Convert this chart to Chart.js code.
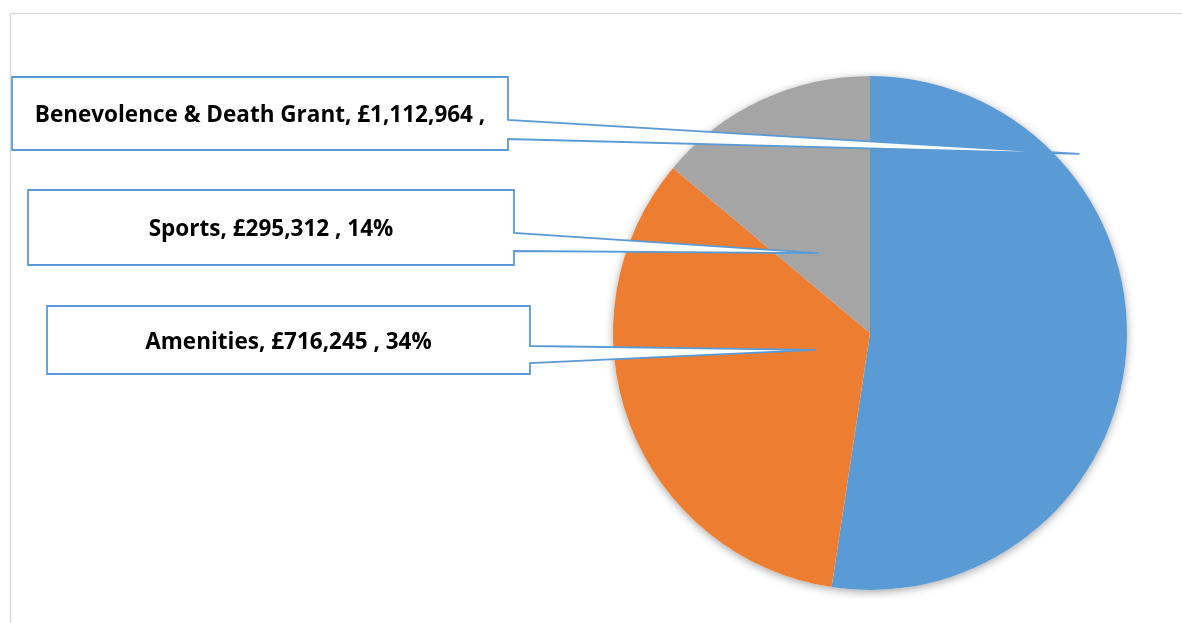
<!DOCTYPE html>
<html>
<head>
<meta charset="utf-8">
<script src="https://cdn.jsdelivr.net/npm/chart.js@4/dist/chart.umd.min.js"></script>
<style>
  html, body { margin: 0; padding: 0; background: #fff; }
  #wrap { width: 1182px; height: 623px; position: relative; }
</style>
</head>
<body>
<div id="wrap"><canvas id="pie"></canvas></div>
<script>
// data
const categories = ['Benevolence & Death Grant', 'Amenities', 'Sports'];
const amounts = [1112964, 716245, 295312];
const labelTexts = [
    'Benevolence & Death Grant, £1,112,964 ,',
    'Amenities, £716,245 , 34%',
    'Sports, £295,312 , 14%',
];
const sliceColors = ['#5B9BD5', '#ED7D31', '#A5A5A5'];

// callout boxes (page px) and where the pointer ends, in radius units from the pie centre
const callouts = [
    { box: [12, 77, 496, 73], join: [120, 139], tip: [0.815, -0.697] },
    { box: [47, 306, 483, 68], join: [346, 363], tip: [-0.21, 0.066] },
    { box: [28, 190, 486, 75], join: [233, 251], tip: [-0.198, -0.311] },
];

const frame = {
    id: 'frame',
    beforeDraw(chart) {
        const ctx = chart.ctx;
        ctx.save();
        ctx.strokeStyle = '#d9d9d9';
        ctx.lineWidth = 1.5;
        ctx.beginPath();
        ctx.moveTo(10.5, 623);
        ctx.lineTo(10.5, 13.5);
        ctx.lineTo(1182, 13.5);
        ctx.stroke();
        ctx.restore();
    },
    beforeDatasetsDraw(chart) {
        // soft shadow under the whole pie
        const arc = chart.getDatasetMeta(0).data[0];
        const ctx = chart.ctx;
        ctx.save();
        ctx.shadowColor = 'rgba(0,0,0,0.35)';
        ctx.shadowBlur = 9;
        ctx.shadowOffsetY = 2;
        ctx.fillStyle = '#ffffff';
        ctx.beginPath();
        ctx.arc(arc.x, arc.y, arc.outerRadius, 0, Math.PI * 2);
        ctx.fill();
        ctx.restore();
    },
    afterDraw(chart) {
        const ctx = chart.ctx;
        const arc = chart.getDatasetMeta(0).data[0];
        const r = arc.outerRadius;
        ctx.save();
        callouts.forEach((c, i) => {
            const [x, y, w, h] = c.box;
            const tx = arc.x + c.tip[0] * r;
            const ty = arc.y + c.tip[1] * r;
            ctx.beginPath();
            ctx.moveTo(x, y);
            ctx.lineTo(x + w, y);
            ctx.lineTo(x + w, c.join[0]);
            ctx.lineTo(tx, ty);
            ctx.lineTo(x + w, c.join[1]);
            ctx.lineTo(x + w, y + h);
            ctx.lineTo(x, y + h);
            ctx.closePath();
            ctx.fillStyle = '#ffffff';
            ctx.fill();
            ctx.strokeStyle = '#5B9BD5';
            ctx.lineWidth = 1.8;
            ctx.stroke();

            ctx.fillStyle = '#000000';
            ctx.font = 'bold 22.5px "Open Sans"';
            ctx.textAlign = 'center';
            ctx.textBaseline = 'middle';
            ctx.fillText(labelTexts[i], x + w / 2, y + h / 2 + 2.5);
        });
        ctx.restore();
    }
};

const pieCtx = document.getElementById('pie');
window.myPie = new Chart(pieCtx, {
    type: 'pie',
    data: {
        labels: categories,
        datasets: [{
            data: amounts,
            backgroundColor: sliceColors,
            borderWidth: 0,
        }],
    },
    options: {
        responsive: true,
        maintainAspectRatio: false,
        animation: false,
        layout: {
            padding: { left: 613, right: 55, top: 76, bottom: 33 },
        },
        plugins: {
            legend: { display: false },
            tooltip: { enabled: false },
        },
    },
    plugins: [frame],
});
</script>
</body>
</html>
